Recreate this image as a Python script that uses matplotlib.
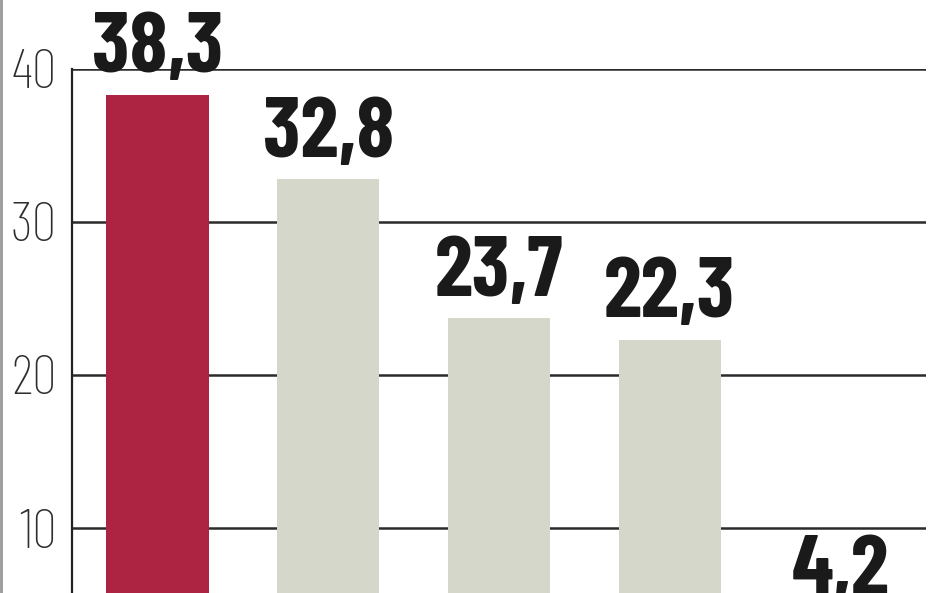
import matplotlib
matplotlib.use("Agg")
import matplotlib.pyplot as plt
from matplotlib.patches import Rectangle

# values (bottom of chart is cropped)
values = [38.3, 32.8, 23.7, 22.3, 4.2]
colors = ["#ad2342", "#d5d7cb", "#d5d7cb", "#d5d7cb", "#d5d7cb"]
yticks = [10, 20, 30, 40]

plt.rcParams['font.family'] = ['Barlow Condensed', 'DejaVu Sans']

fig = plt.figure(figsize=(9.48, 5.93), dpi=100)
ax = fig.add_axes([72 / 948, 0, 854 / 948, 524.5 / 593])

x = list(range(len(values)))
ax.bar(x, values, width=0.6, color=colors, zorder=3)

for xi, v in zip(x, values):
    ax.annotate(f"{v:.1f}".replace(".", ","), (xi, v), xytext=(0, 16),
                textcoords="offset points", ha="center", va="baseline",
                fontsize=62, fontweight="bold", color="#1a1a1a",
                annotation_clip=False, zorder=4)

ax.set_xlim(-0.5, 4.5)
ax.set_ylim(5.77, 40)
ax.set_yticks(yticks)
ax.set_yticklabels([str(t) for t in yticks], fontsize=40, fontweight="light",
                   color="#2e2e2e")
ax.tick_params(axis="y", length=0, pad=11)
ax.set_xticks([])
ax.yaxis.grid(True, color="#2b2b2b", linewidth=1.8, zorder=1)
ax.set_axisbelow(True)

for s in ["top", "right", "bottom"]:
    ax.spines[s].set_visible(False)
ax.spines["left"].set_linewidth(1.6)
ax.spines["left"].set_color("#222222")

# thin gray frame edge on the far left
fig.add_artist(Rectangle((0, 0), 3 / 948, 1, transform=fig.transFigure,
                         color="#a0a0a0", lw=0))

fig.savefig("out.png", dpi=100)
